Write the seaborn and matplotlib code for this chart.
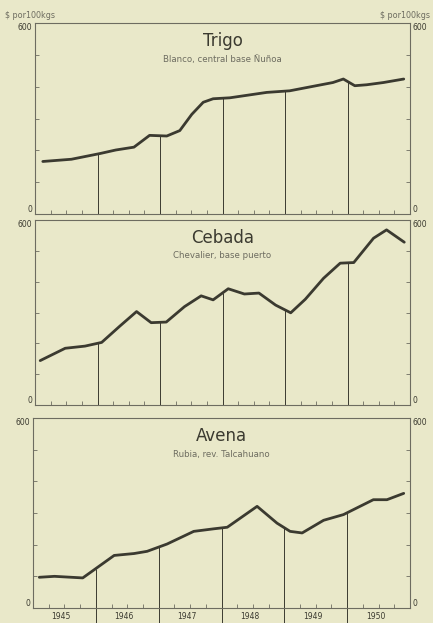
import numpy as np
import pandas as pd
import matplotlib
matplotlib.use("Agg")
import matplotlib.pyplot as plt
import seaborn as sns

# ---- data (months since Jan 1945) ----
trigo_month = [1.5, 7, 12.5, 15.5, 19, 22, 25.3, 27.8, 30.1, 32.3, 34.2, 37.4,
               44.5, 48.9, 54, 57.2, 59.2, 61.4, 63.7, 66.9, 70.8]
trigo_value = [165, 172, 190, 201, 210, 247, 245, 262, 313, 351, 362, 365,
               382, 387, 403, 413, 424, 403, 406, 413, 424]

cebada_month = [1, 5.8, 9.6, 12.8, 16.3, 19.5, 22.3, 25.2, 28.7, 31.9, 34.2, 37.1,
                40.2, 43, 46.2, 49.1, 51.9, 55.4, 58.6, 61.2, 65, 67.5, 70.9]
cebada_value = [144, 184, 191, 203, 256, 303, 267, 269, 319, 354, 341, 377,
                360, 363, 324, 299, 343, 411, 460, 462, 541, 568, 528]

avena_month = [1.2, 4.1, 9.5, 11.7, 15.5, 19.3, 21.8, 25.6, 30.7, 34.5, 37.1, 42.8,
               46.6, 49.1, 51.4, 55.5, 59.3, 65, 67.6, 70.8]
avena_value = [97, 100, 95, 121, 166, 172, 179, 202, 242, 250, 255, 321,
               268, 242, 237, 277, 295, 342, 342, 362]

titles = ["Trigo", "Cebada", "Avena"]
subtitles = ["Blanco, central base Ñuñoa", "Chevalier, base puerto", "Rubia, rev. Talcahuano"]
years = ["1945", "1946", "1947", "1948", "1949", "1950"]
unit_label = "$ por100kgs"

BG = "#e9e8c9"
INK = "#3b3a30"
GRAY = "#6d6c60"

sns.set_theme(style="white")
plt.rcParams["font.family"] = ["DejaVu Sans"]

fig = plt.figure(figsize=(4.33, 6.23), dpi=100, facecolor=BG)

boxes = [
    [35 / 433, 1 - 214 / 623, 375 / 433, 191 / 623],
    [35 / 433, 1 - 405 / 623, 375 / 433, 185 / 623],
    [33 / 433, 1 - 608 / 623, 377 / 433, 190 / 623],
]
series = [(trigo_month, trigo_value), (cebada_month, cebada_value), (avena_month, avena_value)]

for i, (box, (mx, vy)) in enumerate(zip(boxes, series)):
    ax = fig.add_axes(box)
    ax.set_facecolor(BG)
    df = pd.DataFrame({"month": mx, "value": vy})
    sns.lineplot(data=df, x="month", y="value", ax=ax, color=INK, linewidth=2.0,
                 solid_joinstyle="round", solid_capstyle="round")
    ax.set_xlim(0, 72)
    ax.set_ylim(0, 600)
    # year separators rising to the curve
    bounds = np.array([12, 24, 36, 48, 60])
    tops = np.interp(bounds, mx, vy)
    ax.vlines(bounds, 0, tops, color=INK, linewidth=0.7)
    for s in ax.spines.values():
        s.set_color(GRAY)
        s.set_linewidth(0.8)
        s.set_visible(True)
    ax.set_xlabel("")
    ax.set_ylabel("")
    ax.set_yticks([0, 600])
    ax.set_yticklabels(["0", "600"])
    ax.set_yticks([100, 200, 300, 400, 500], minor=True)
    ax.tick_params(axis="y", which="both", left=True, right=True, labelleft=True,
                   labelright=True, direction="in", length=0, labelsize=5.5,
                   labelcolor=INK, pad=2)
    ax.tick_params(axis="y", which="minor", length=3, color=GRAY, width=0.6)
    for lab in ax.get_yticklabels() + ax.yaxis.get_ticklabels(which="major"):
        pass
    for t in ax.yaxis.get_major_ticks():
        if t.get_loc() == 0:
            t.label1.set_va("bottom")
            t.label2.set_va("bottom")
        else:
            t.label1.set_va("top")
            t.label2.set_va("top")
    ax.set_xticks(np.arange(3, 72, 3), minor=True)
    ax.tick_params(axis="x", which="minor", bottom=True, direction="in",
                   length=3, color=GRAY, width=0.6)
    if i < 2:
        ax.set_xticks([])
        ax.set_xticks(np.arange(3, 72, 3), minor=True)
    else:
        ax.set_xticks([12, 24, 36, 48, 60])
        ax.set_xticklabels([])
        ax.tick_params(axis="x", which="major", bottom=True, direction="out",
                       length=12, color=INK, width=0.7)
        for k, y in enumerate(years):
            ax.text(6 + 12 * k - 0.6, -0.02, y, transform=ax.get_xaxis_transform(),
                    ha="center", va="top", fontsize=5.5, color=INK)
    ax.text(0.5, 0.905, titles[i], transform=ax.transAxes, ha="center", va="center",
            fontsize=12, color=INK)
    ax.text(0.5, 0.81, subtitles[i], transform=ax.transAxes, ha="center", va="center",
            fontsize=6.2, color=GRAY)

fig.text(5 / 433, 1 - 15 / 623, unit_label, ha="left", va="center", fontsize=5.8, color=GRAY)
fig.text(430 / 433, 1 - 15 / 623, unit_label, ha="right", va="center", fontsize=5.8, color=GRAY)

fig.savefig("out.png", dpi=100, facecolor=BG)
